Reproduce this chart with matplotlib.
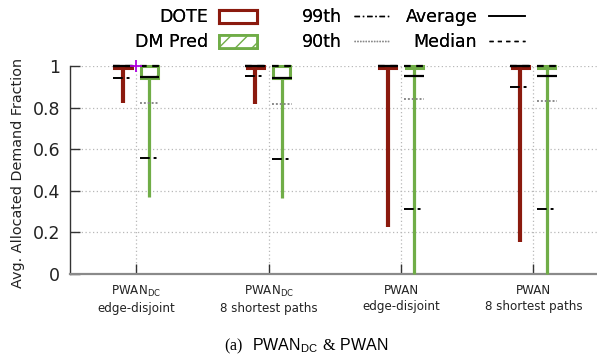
import matplotlib
matplotlib.use('Agg')
import matplotlib.pyplot as plt
from matplotlib.patches import Patch
from matplotlib.lines import Line2D
import numpy as np

plt.rcParams['mathtext.rm'] = 'Liberation Serif'
plt.rcParams['mathtext.sf'] = 'Liberation Sans'

# category labels (x axis)
categories = ['PWAN$_{\\mathrm{DC}}$\nedge-disjoint',
              'PWAN$_{\\mathrm{DC}}$\n8 shortest paths',
              'PWAN\nedge-disjoint',
              'PWAN\n8 shortest paths']

# DOTE statistics per category
dote_min = [0.82, 0.815, 0.225, 0.155]
dote_q1 = [0.99, 0.99, 0.99, 0.99]
dote_q3 = [1.0, 1.0, 1.0, 1.0]
dote_avg = [0.998, 0.998, 0.998, 0.998]
dote_median = [1.0, 1.0, 1.0, 1.0]
dote_p90 = [1.0, 1.0, 1.0, 1.0]
dote_p99 = [0.94, 0.952, 1.0, 0.90]

# DM Pred statistics per category
dm_min = [0.37, 0.365, 0.0, 0.0]
dm_q1 = [0.94, 0.94, 0.99, 0.99]
dm_q3 = [1.0, 1.0, 1.0, 1.0]
dm_avg = [0.945, 0.94, 0.952, 0.95]
dm_median = [1.0, 1.0, 1.0, 1.0]
dm_p90 = [0.82, 0.818, 0.84, 0.83]
dm_p99 = [0.56, 0.555, 0.314, 0.312]

# stray marker in the original
extra_x = [1]
extra_y = [1.0]

RED = '#8b1a0e'
GREEN = '#70ad47'

fig = plt.figure(figsize=(5.97, 3.62), dpi=100)
ax = fig.add_axes([70 / 597, 1 - 274 / 362, 527 / 597, 208 / 362])

x = np.arange(1, len(categories) + 1)
w = 0.15
off = 0.1


def draw_group(xs, vmin, q1, q3, avg, med, p90, p99, color, hatch, wlw):
    # whisker
    ax.vlines(xs, vmin, q1, colors=color, lw=wlw, zorder=3, clip_on=False)
    # box
    ax.bar(xs, np.array(q3) - np.array(q1), bottom=q1, width=w - 0.02,
           facecolor='white', edgecolor=color, lw=2.2, hatch=hatch,
           zorder=3.5, clip_on=False)
    # stat lines
    ax.hlines(p90, xs - w / 2, xs + w / 2, colors='#8a8a8a',
              linestyles=(0, (1, 1)), lw=1.4, zorder=4, clip_on=False)
    ax.hlines(p99, xs - w / 2, xs + w / 2, colors='black',
              linestyles=(0, (5, 2, 1.5, 2)), lw=1.4, zorder=4, clip_on=False)
    ax.hlines(avg, xs - w / 2, xs + w / 2, colors='black',
              linestyles='solid', lw=1.6, zorder=4.2, clip_on=False)
    ax.hlines(med, xs - w / 2, xs + w / 2, colors='black',
              linestyles=(0, (3, 2.5)), lw=1.6, zorder=4.3, clip_on=False)


draw_group(x - off, dote_min, dote_q1, dote_q3, dote_avg, dote_median,
           dote_p90, dote_p99, RED, None, 3.0)
draw_group(x + off, dm_min, dm_q1, dm_q3, dm_avg, dm_median,
           dm_p90, dm_p99, GREEN, '/', 2.3)

ax.plot(extra_x, extra_y, '+', color='#b000e0', ms=8, mew=1.3,
        zorder=6, clip_on=False)

ax.set_xlim(0.5, 4.48)
ax.set_ylim(0, 1)
ax.set_xticks(x)
ax.set_xticklabels(categories, fontsize=8.6, color='#222222', linespacing=1.35)
ax.set_yticks([0, 0.2, 0.4, 0.6, 0.8, 1.0])
ax.set_yticklabels(['0', '0.2', '0.4', '0.6', '0.8', '1'], fontsize=12.5,
                   color='#222222')
ax.tick_params(axis='both', direction='in', length=7, width=1, color='#333333')
ax.tick_params(axis='y', pad=7)
ax.tick_params(axis='x', pad=7)

ax.grid(True, color='#b8b8b8', linestyle=(0, (1, 2)), lw=0.9)
ax.set_axisbelow(True)
for s in ['top', 'right']:
    ax.spines[s].set_visible(False)
ax.spines['left'].set_color('#333333')
ax.spines['left'].set_linewidth(1.0)
ax.spines['bottom'].set_color('#8a8a8a')
ax.spines['bottom'].set_linewidth(1.6)

fig.text(18 / 597, 1 - 173 / 362, 'Avg. Allocated Demand Fraction',
         rotation=90, ha='center', va='center', fontsize=10.4, color='#222222')

# legend: three right-aligned columns like gnuplot
leg_fs = 12.5
cols = [
    ([Patch(facecolor='white', edgecolor=RED, lw=2.2),
      Patch(facecolor='white', edgecolor=GREEN, lw=2.0, hatch='//')],
     ['DOTE', 'DM Pred'], 257, 2.2, 0.6),
    ([Line2D([], [], color='black', lw=1.0, linestyle=(0, (4, 2, 1, 2))),
      Line2D([], [], color='#8a8a8a', lw=1.0, linestyle=(0, (1, 1)))],
     ['99th', '90th'], 389, 2.0, 0.7),
    ([Line2D([], [], color='black', lw=1.2),
      Line2D([], [], color='black', lw=1.0, linestyle=(0, (3, 3)))],
     ['Average', 'Median'], 525, 2.05, 0.7),
]
for handles, labels, xr, hl, tp in cols:
    leg = fig.legend(handles, labels, loc='upper right',
                     bbox_to_anchor=(xr / 597, 1 - 8.5 / 362),
                     bbox_transform=fig.transFigure, frameon=False,
                     markerfirst=False, fontsize=leg_fs, borderpad=0,
                     borderaxespad=0, handlelength=hl, handletextpad=tp,
                     labelspacing=0.4, handleheight=0.75)
    fig.add_artist(leg)

fig.text(306 / 597, 1 - 346 / 362,
         r'$\mathrm{(a)}\ \ \mathsf{PWAN}_{\mathsf{DC}}\ \mathrm{&}\ \mathsf{PWAN}$',
         ha='center', va='center', fontsize=11.5, math_fontfamily='custom')

fig.savefig('out.png', dpi=100)
